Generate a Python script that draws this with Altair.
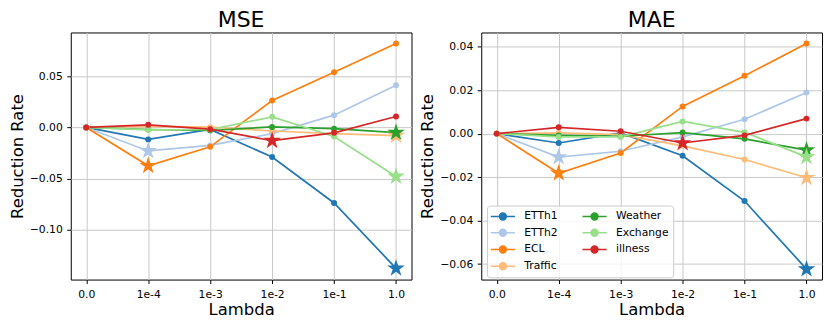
import altair as alt
import pandas as pd

lambdas = ["0.0", "1e-4", "1e-3", "1e-2", "1e-1", "1.0"]
datasets = ["ETTh1", "ETTh2", "ECL", "Traffic", "Weather", "Exchange", "illness"]
colors = ["#1f77b4", "#aec7e8", "#ff7f0e", "#ffbb78", "#2ca02c", "#98df8a", "#d62728"]

# MSE reduction rate per dataset (one value per lambda)
mse_etth1 = [0.0, -0.0117, -0.0020, -0.0290, -0.0740, -0.1380]
mse_etth2 = [0.0, -0.0230, -0.0176, -0.0060, 0.0120, 0.0413]
mse_ecl = [0.0, -0.0375, -0.0190, 0.0264, 0.0540, 0.0823]
mse_traffic = [0.0, 0.0010, 0.0003, -0.0035, -0.0060, -0.0080]
mse_weather = [0.0, -0.0020, -0.0030, 0.0005, -0.0012, -0.0050]
mse_exchange = [0.0, -0.0023, -0.0020, 0.0104, -0.0088, -0.0480]
mse_illness = [0.0, 0.0026, -0.0017, -0.0130, -0.0053, 0.0107]

# MAE reduction rate per dataset
mae_etth1 = [0.0, -0.0043, 0.0003, -0.0102, -0.0310, -0.0623]
mae_etth2 = [0.0, -0.0108, -0.0081, -0.0015, 0.0066, 0.0189]
mae_ecl = [0.0, -0.0182, -0.0089, 0.0125, 0.0266, 0.0414]
mae_traffic = [0.0, 0.0003, -0.0005, -0.0056, -0.0119, -0.0203]
mae_weather = [0.0, -0.0008, -0.0012, 0.0005, -0.0024, -0.0076]
mae_exchange = [0.0, -0.0015, -0.0015, 0.0056, 0.0006, -0.0107]
mae_illness = [0.0, 0.0029, 0.0011, -0.0043, -0.0008, 0.0069]

mse_ticks = [0.05, 0.0, -0.05, -0.10]
mae_ticks = [0.04, 0.02, 0.0, -0.02, -0.04, -0.06]

mse = dict(zip(datasets, [mse_etth1, mse_etth2, mse_ecl, mse_traffic,
                          mse_weather, mse_exchange, mse_illness]))
mae = dict(zip(datasets, [mae_etth1, mae_etth2, mae_ecl, mae_traffic,
                          mae_weather, mae_exchange, mae_illness]))


def frame(values):
    rows = []
    for s, name in enumerate(datasets):
        vals = values[name]
        best = min(range(len(vals)), key=lambda i: vals[i])
        for i, lam in enumerate(lambdas):
            rows.append({"dataset": name, "lambda": lam, "idx": i, "s": s,
                         "value": vals[i], "best": i == best})
    return pd.DataFrame(rows)


STAR = ("M0,-1L0.225,-0.309L0.951,-0.309L0.363,0.118L0.588,0.809L0,0.382"
        "L-0.588,0.809L-0.363,0.118L-0.951,-0.309L-0.225,-0.309Z")
LEG_SYM = ("M-2.2,0L2.2,0M-0.62,0A0.62,0.62 0 1,1 0.62,0"
           "A0.62,0.62 0 1,1 -0.62,0Z")


def panel(df, title, domain, ticks, legend):
    base = alt.Chart(df)
    x = alt.X("lambda:O", sort=lambdas,
              scale=alt.Scale(type="point", padding=0.25),
              axis=alt.Axis(title="Lambda", labelAngle=0, grid=True,
                            titlePadding=2.6))
    y = alt.Y("value:Q",
              scale=alt.Scale(domain=domain, nice=False, zero=False),
              axis=alt.Axis(title="Reduction Rate", values=ticks, format=".2f",
                            titlePadding=4))
    if legend:
        leg = alt.Legend(
            title=None, orient="none", legendX=5.7, legendY=173.7,
            columns=2, symbolType=LEG_SYM, symbolSize=121,
            symbolStrokeWidth=1.6, symbolOffset=5.5, labelOffset=15,
            columnPadding=20, rowPadding=1.8, padding=4,
            labelFontSize=10.8, labelFont="DejaVu Sans", labelColor="#000",
            fillColor="rgba(255,255,255,0.8)", strokeColor="#cccccc",
            cornerRadius=3, symbolOpacity=1)
    else:
        leg = None
    color = alt.Color("dataset:N",
                      scale=alt.Scale(domain=datasets, range=colors),
                      legend=leg)
    lines = base.mark_line(strokeWidth=1.7).encode(
        x=x, y=y, color=color, order=alt.Order("idx:Q"))
    dots = base.mark_circle(size=36, opacity=1).encode(x=x, y=y, color=color)
    stars = base.transform_filter("datum.best").mark_point(
        shape=STAR, size=340, filled=True, opacity=1, strokeWidth=0
    ).encode(x=x, y=y, color=color)
    return alt.layer(lines, dots, stars).properties(
        width=342, height=248,
        title=alt.TitleParams(title, fontSize=22, fontWeight="normal",
                              offset=0.5, anchor="middle", font="DejaVu Sans",
                              color="#000"))


left = panel(frame(mse), "MSE", [-0.149, 0.093], mse_ticks, False)
right = panel(frame(mae), "MAE", [-0.0671, 0.0465], mae_ticks, True)

chart = alt.hconcat(left, right, spacing=6).resolve_legend(
    color="independent"
).properties(padding=0).configure(
    font="DejaVu Sans"
).configure_view(
    stroke="#000", strokeWidth=1
).configure_axis(
    domain=False, gridColor="#c8c8c8", gridWidth=1, tickColor="#000",
    tickSize=4, labelFontSize=10.8, labelColor="#000", labelFont="DejaVu Sans",
    titleFontSize=16.5, titleFontWeight="normal", titleColor="#000",
    titleFont="DejaVu Sans", labelPadding=4.5
)

chart.save("out.html", embed_options={"renderer": "svg", "actions": False})
